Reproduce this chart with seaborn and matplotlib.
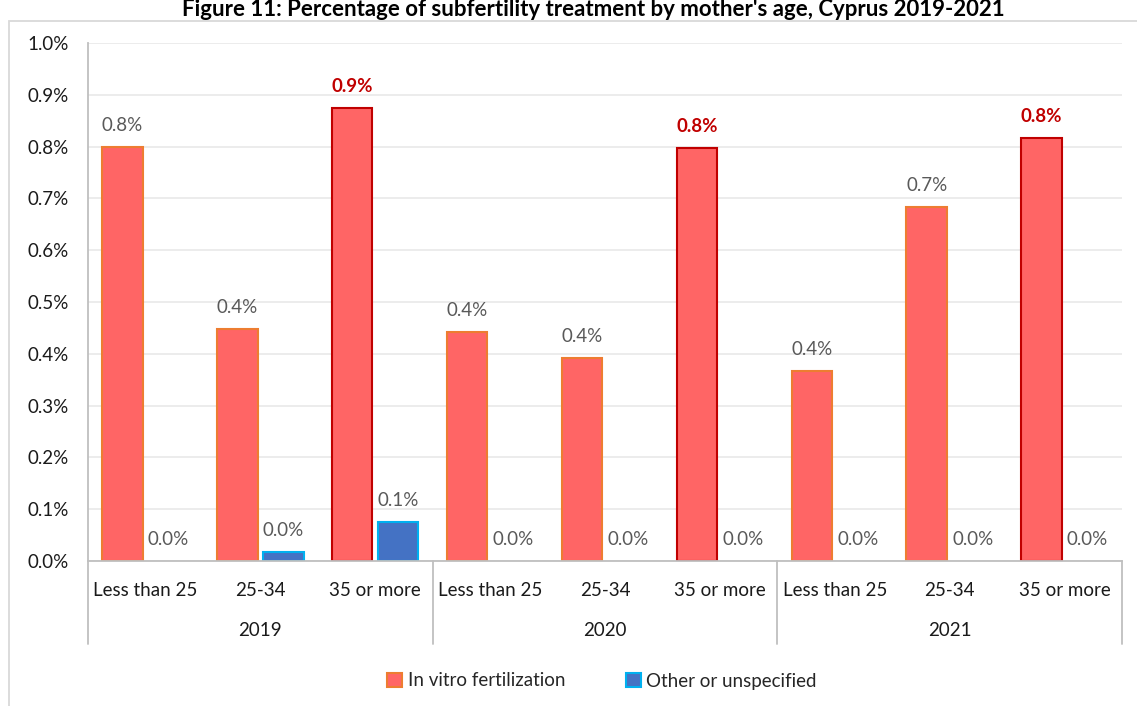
"""Subfertility treatment share by mother's age, Cyprus 2019-2021."""

import matplotlib.pyplot as plt
import matplotlib.patches as mpatches
import matplotlib.transforms as mtransforms
from matplotlib.ticker import FuncFormatter
import pandas as pd
import seaborn as sns


YEARS = ["2019", "2020", "2021"]
AGE_GROUPS = ["Less than 25", "25-34", "35 or more"]
TREATMENTS = ["In vitro fertilization", "Other or unspecified"]

# percent of births, per year x age group
IVF_VALUES = [0.799, 0.448, 0.875, 0.442, 0.392, 0.798, 0.367, 0.683, 0.817]
OTHER_VALUES = [0.0, 0.017, 0.075, 0.0, 0.0, 0.0, 0.0, 0.0, 0.0]

Y_TICKS = [0.0, 0.1, 0.2, 0.3, 0.4, 0.5, 0.6, 0.7, 0.8, 0.9, 1.0]

IVF_FILL = "#FF6565"
IVF_EDGE = "#ED7D31"
IVF_EDGE_HIGH = "#C00000"
OTHER_FILL = "#4472C4"
OTHER_EDGE = "#00B0F0"
LABEL_GRAY = "#595959"
HIGHLIGHT_RED = "#C00000"
AXIS_GRAY = "#BFBFBF"
GRID_GRAY = "#EBEBEB"


def build_table() -> pd.DataFrame:
    rows = []
    i = 0
    for year in YEARS:
        for age in AGE_GROUPS:
            key = f"{year}|{age}"
            rows.append({"slot": key, "year": year, "age": age, "treatment": TREATMENTS[0], "value": IVF_VALUES[i]})
            rows.append({"slot": key, "year": year, "age": age, "treatment": TREATMENTS[1], "value": OTHER_VALUES[i]})
            i += 1
    return pd.DataFrame(rows)


def main() -> None:
    df = build_table()
    slot_order = [f"{y}|{a}" for y in YEARS for a in AGE_GROUPS]

    sns.set_style("white")
    plt.rcParams["font.family"] = ["Lato", "DejaVu Sans"]

    fig = plt.figure(figsize=(11.37, 7.06), dpi=100)
    W, H = 1137, 706
    ax = fig.add_axes([88 / W, 1 - 561 / H, (1122 - 88) / W, (561 - 43) / H])

    sns.barplot(
        data=df,
        x="slot",
        y="value",
        hue="treatment",
        order=slot_order,
        hue_order=TREATMENTS,
        palette=[IVF_FILL, OTHER_FILL],
        saturation=1,
        width=0.8,
        gap=0.12,
        errorbar=None,
        legend=False,
        ax=ax,
    )

    # edge colours: the oldest group is outlined in dark red
    ivf_bars, other_bars = ax.containers[0], ax.containers[1]
    for idx, bar in enumerate(ivf_bars):
        high = AGE_GROUPS[idx % 3] == "35 or more"
        bar.set_edgecolor(IVF_EDGE_HIGH if high else IVF_EDGE)
        bar.set_linewidth(1.5)
        txt_color = HIGHLIGHT_RED if high else LABEL_GRAY
        ax.annotate(
            f"{IVF_VALUES[idx]:.1f}%",
            (bar.get_x() + bar.get_width() / 2, bar.get_height()),
            xytext=(0, 11.5),
            textcoords="offset points",
            ha="center",
            va="baseline",
            fontsize=13.5,
            color=txt_color,
            fontweight="bold" if high else "normal",
        )
    for idx, bar in enumerate(other_bars):
        bar.set_edgecolor(OTHER_EDGE)
        bar.set_linewidth(1.5 if OTHER_VALUES[idx] > 0 else 0)
        ax.annotate(
            f"{OTHER_VALUES[idx]:.1f}%",
            (bar.get_x() + bar.get_width() / 2, bar.get_height()),
            xytext=(0, 11.5),
            textcoords="offset points",
            ha="center",
            va="baseline",
            fontsize=13.5,
            color=LABEL_GRAY,
        )

    ax.set_ylim(0, 1.0)
    ax.set_yticks(Y_TICKS)
    ax.yaxis.set_major_formatter(FuncFormatter(lambda v, _: f"{v:.1f}%"))
    ax.set_xlim(-0.5, len(slot_order) - 0.5)
    ax.set_xticks(range(len(slot_order)))
    ax.set_xticklabels([s.split("|")[1] for s in slot_order])
    ax.set_xlabel("")
    ax.set_ylabel("")
    ax.tick_params(axis="y", length=0, pad=14, labelsize=13.5, labelcolor="#1a1a1a")
    ax.tick_params(axis="x", length=0, pad=15, labelsize=13.5, labelcolor="#1a1a1a")

    ax.grid(axis="y", color=GRID_GRAY, linewidth=1.3)
    ax.set_axisbelow(True)
    for side in ["top", "right"]:
        ax.spines[side].set_visible(False)
    ax.spines["left"].set_color(AXIS_GRAY)
    ax.spines["bottom"].set_color(AXIS_GRAY)
    ax.spines["left"].set_linewidth(1.3)
    ax.spines["bottom"].set_linewidth(1.3)

    # second level of the category axis: year labels + separators
    trans = mtransforms.blended_transform_factory(ax.transData, ax.transAxes)
    sep_bottom = -(644 - 561) / (561 - 43)
    year_y = -(630 - 561) / (561 - 43)
    for b in [-0.5, 2.5, 5.5, 8.5]:
        ax.plot([b, b], [0, sep_bottom], transform=trans, color=AXIS_GRAY, lw=1.3, clip_on=False)
    for g, year in enumerate(YEARS):
        ax.text(3 * g + 1, year_y, year, transform=trans, ha="center", va="center",
                fontsize=13.5, color="#1a1a1a")

    # legend below the plot
    handles = [
        mpatches.Patch(facecolor=IVF_FILL, edgecolor=IVF_EDGE, linewidth=1.5, label=TREATMENTS[0]),
        mpatches.Patch(facecolor=OTHER_FILL, edgecolor=OTHER_EDGE, linewidth=1.5, label=TREATMENTS[1]),
    ]
    fig.legend(
        handles=handles,
        loc="center",
        bbox_to_anchor=(602 / W, 1 - 681 / H),
        ncol=2,
        frameon=False,
        fontsize=13.5,
        handlelength=0.8,
        handleheight=0.8,
        handletextpad=0.3,
        columnspacing=3.2,
    )

    # chart frame (only its top and left edges fall inside the picture)
    fig.add_artist(mpatches.Rectangle((9 / W, -0.1), 1.2, 1 - 21 / H + 0.1, transform=fig.transFigure,
                                      fill=False, edgecolor="#D9D9D9", linewidth=1.3))

    fig.text(593 / W, 1 - 16 / H, "Figure 11: Percentage of subfertility treatment by mother's age, Cyprus 2019-2021",
             ha="center", va="baseline", fontsize=16, fontweight="bold", color="#000000")

    fig.savefig("out.png", dpi=100)
    plt.close(fig)


if __name__ == "__main__":
    main()
